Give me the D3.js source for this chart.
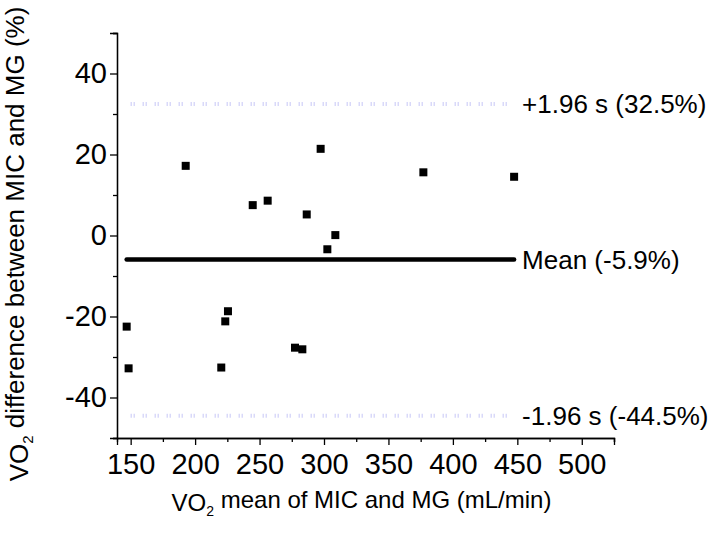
<!DOCTYPE html>
<html>
<head>
<meta charset="utf-8">
<script src="https://cdn.jsdelivr.net/npm/d3@7"></script>
<style>
  html, body { margin: 0; padding: 0; background: #fff; }
  svg { display: block; font-family: "Liberation Sans", Arial, sans-serif; }
</style>
</head>
<body>
<svg id="chart" width="718" height="536"></svg>
<script>
// Bland-Altman data: mean of the two methods (mL/min) vs. relative difference (%)
const meanVO2 = [192.7, 297.4, 244.7, 256.3, 286.6, 308.8, 302.6, 225.5,
                 223.4, 146.9, 148.4, 220.3, 277.5, 283.2, 377.1, 447.5];
const diffPct = [17.2, 21.4, 7.5, 8.6, 5.2, 0.1, -3.4, -18.7,
                 -21.2, -22.5, -32.8, -32.6, -27.7, -28.1, 15.6, 14.5];

const meanDiff = -5.9;
const upperLoA = 32.5;
const lowerLoA = -44.5;

const xMajorTicks = [150, 200, 250, 300, 350, 400, 450, 500];
const xMinorTicks = [175, 225, 275, 325, 375, 425, 475, 525];
const yMajorTicks = [-40, -20, 0, 20, 40];
const yMinorTicks = [-50, -30, -10, 10, 30, 50];

const refLabels = [
  { value: upperLoA, text: "+1.96 s (32.5%)" },
  { value: meanDiff, text: "Mean (-5.9%)" },
  { value: lowerLoA, text: "-1.96 s (-44.5%)" }
];

const svg = d3.select("#chart");

const x = d3.scaleLinear().domain([139.4, 525]).range([117, 614]);
const y = d3.scaleLinear().domain([-50, 50]).range([438, 33]);

// ---- axes ----
const gx = svg.append("g").attr("transform", `translate(0,${y.range()[0]})`);
gx.call(d3.axisBottom(x).tickValues(xMajorTicks).tickSize(7).tickPadding(8)
  .tickFormat(d => String(d)));
gx.append("g").call(d3.axisBottom(x).tickValues(xMinorTicks).tickSize(4).tickFormat(""));

const gy = svg.append("g").attr("transform", `translate(${x.range()[0]},0)`);
gy.call(d3.axisLeft(y).tickValues(yMajorTicks).tickSize(7).tickPadding(3)
  .tickFormat(d => String(d)));
gy.append("g").call(d3.axisLeft(y).tickValues(yMinorTicks).tickSize(4).tickFormat(""));

svg.selectAll(".domain").attr("stroke", "#000").attr("stroke-width", 1.3);
svg.selectAll(".tick line").attr("stroke", "#000").attr("stroke-width", 1.3);
svg.selectAll(".tick text")
  .attr("fill", "#000")
  .style("font-family", "'Liberation Sans', Arial, sans-serif")
  .style("font-size", "29px");

// ---- limits of agreement (dotted) and mean bias line ----
const xMin = d3.min(meanVO2), xMax = d3.max(meanVO2);

svg.selectAll("line.loa")
  .data([upperLoA, lowerLoA])
  .join("line")
  .attr("class", "loa")
  .attr("x1", x(xMin) + 4).attr("x2", x(xMax))
  .attr("y1", d => y(d)).attr("y2", d => y(d))
  .attr("stroke", "#c6c6f6")
  .attr("stroke-width", 4)
  .attr("stroke-dasharray", "1,2,1,8");

svg.append("line")
  .attr("x1", x(xMin)).attr("x2", x(xMax))
  .attr("y1", y(meanDiff)).attr("y2", y(meanDiff))
  .attr("stroke", "#000")
  .attr("stroke-width", 4.5)
  .attr("stroke-linecap", "round");

// ---- data points ----
const S = 8;
svg.selectAll("rect.pt")
  .data(meanVO2.map((m, i) => [m, diffPct[i]]))
  .join("rect")
  .attr("class", "pt")
  .attr("x", d => x(d[0]) - S / 2)
  .attr("y", d => y(d[1]) - S / 2)
  .attr("width", S).attr("height", S)
  .attr("fill", "#000");

// ---- reference line labels ----
const lx = x(xMax) + 8;
svg.selectAll("text.ref")
  .data(refLabels)
  .join("text")
  .attr("class", "ref")
  .attr("x", lx)
  .attr("y", d => y(d.value))
  .attr("dy", "0.36em")
  .style("font-size", "26px")
  .attr("fill", "#000")
  .text(d => d.text);

// ---- axis titles ----
const xt = svg.append("text")
  .attr("x", (x.range()[0] + x.range()[1]) / 2 - 4).attr("y", 511)
  .attr("text-anchor", "middle")
  .style("font-size", "24px")
  .attr("fill", "#000");
xt.append("tspan").text("VO");
xt.append("tspan").attr("dy", "0.35em").style("font-size", "14px").text("2");
xt.append("tspan").attr("dy", "-0.35em").text(" mean of MIC and MG (mL/min)");

const yt = svg.append("text")
  .attr("transform", `translate(28,244) rotate(-90)`)
  .attr("text-anchor", "middle")
  .style("font-size", "26px")
  .attr("fill", "#000");
yt.append("tspan").text("VO");
yt.append("tspan").attr("dy", "0.35em").style("font-size", "15px").text("2");
yt.append("tspan").attr("dy", "-0.35em").text(" difference between MIC and MG (%)");
</script>
</body>
</html>
